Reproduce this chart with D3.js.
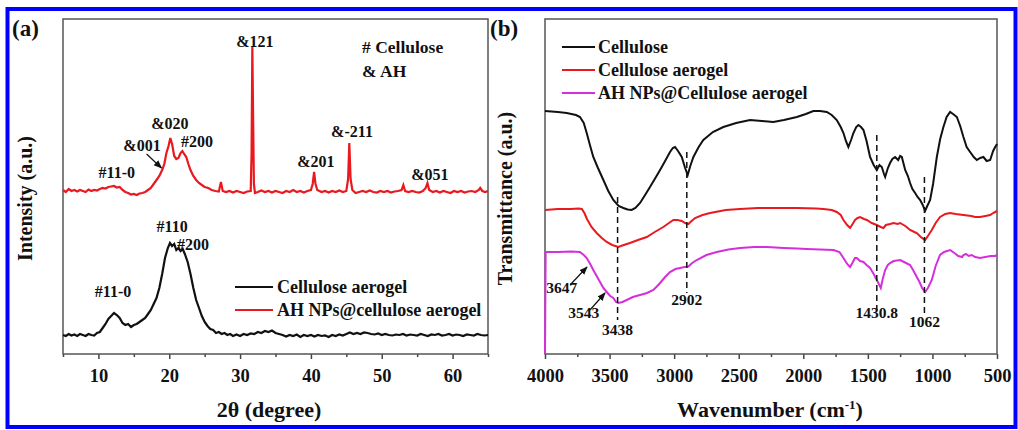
<!DOCTYPE html>
<html>
<head>
<meta charset="utf-8">
<script src="https://cdn.jsdelivr.net/npm/d3@7"></script>
<style>
  body { margin: 0; background: #fff; }
  svg text { font-family: "Liberation Serif", "Times New Roman", serif; font-weight: bold; fill: #111; }
</style>
</head>
<body>
<svg id="chart" width="1018" height="430"></svg>
<script>
// ---- data (panel a: XRD, intensity a.u.) ----
const xrdCellAerogel = [
  [5,19],[5.4,18],[5.8,20],[6.2,18.5],[6.6,19.5],[7,18],[7.4,20],[7.8,19],[8.2,18],[8.6,20],[9,19],[9.4,18.5],
  [9.8,21],[10.2,22],[10.6,26],[11,30],[11.4,35],[11.8,38],[12.2,41],[12.6,39],[13,36],[13.4,31],[13.8,29],
  [14.2,30],[14.6,27],[15,29],[15.4,30],[15.8,32],[16.2,34],[16.6,36],[17,40],[17.4,44],[17.8,50],[18.2,56],
  [18.6,66],[19,80],[19.4,96],[19.8,106],[20.1,111],[20.4,108],[20.7,110],[21,104],[21.3,106],[21.6,103],
  [21.9,105],[22.2,100],[22.6,92],[23,80],[23.4,66],[23.8,54],[24.2,46],[24.6,38],[25,32],[25.4,28],[25.8,25],
  [26.2,24],[26.6,21],[27,22],[27.4,20],[27.8,21],[28.2,19],[28.6,20],[29,18],[29.5,19.5],[30,18],[30.5,20],
  [31,19],[31.5,20.5],[32,20],[32.5,22],[33,21],[33.5,23],[34,22],[34.5,23.5],[35,21],[35.5,20],[36,19],
  [36.5,17.5],[37,19],[37.5,18],[38,19.5],[38.5,17],[39,19],[39.5,18],[40,19],[40.5,17.5],[41,19],[41.5,18],
  [42,18.5],[42.5,17],[43,19],[43.5,18],[44,19.5],[44.5,18.5],[45,20],[45.5,21.5],[46,20],[46.5,21],[47,20],
  [47.5,21.5],[48,21],[48.5,20],[49,19.5],[49.5,20.5],[50,19],[50.5,20],[51,19],[51.5,18.5],[52,19.5],
  [52.5,19],[53,20],[53.5,18.5],[54,19.5],[54.5,19],[55,18.5],[55.5,20],[56,19],[56.5,18],[57,19.5],[57.5,19],
  [58,20],[58.5,18.5],[59,19],[59.5,20],[60,18.5],[60.5,19.5],[61,19],[61.5,18],[62,19.5],[62.5,19],
  [63,18.5],[63.5,20],[64,19],[64.5,18.5],[65,19]
];
const xrdAHAerogel = [
  [5,164],[5.4,162],[5.8,165],[6.2,163],[6.6,164],[7,162.5],[7.4,164],[7.8,163],[8.2,162],[8.6,164.5],[9,163],
  [9.4,164],[9.8,163.5],[10.2,165],[10.6,166],[11,165.5],[11.4,167],[11.8,167.5],[12.2,168],[12.6,166.5],
  [13,167],[13.4,164],[13.8,162],[14.2,161],[14.6,159.5],[15,160],[15.4,159],[15.8,160.5],[16.2,161],[16.6,162],
  [17,164],[17.4,166],[17.8,170],[18.2,174],[18.6,178],[19,184],[19.3,190],[19.6,201],[19.9,208],[20.15,216],
  [20.4,210],[20.7,198],[21,195],[21.3,196],[21.6,201],[21.85,203],[22.1,200],[22.4,197],[22.7,190],[23,184],
  [23.4,178],[23.8,174],[24.2,171],[24.6,169],[25,167],[25.5,166],[26,164],[26.5,163],[27,162.5],[27.3,172],
  [27.55,163],[28,162],[28.5,163],[29,161.5],[29.5,163],[30,162],[30.5,161],[31,162.5],[31.5,163],[31.62,200],
  [31.73,307],[31.85,230],[31.95,170],[32.1,161],[32.5,162],[33,163.5],[33.5,162],[34,163],[34.5,161.5],[35,163],
  [35.5,162],[36,161],[36.5,163],[37,162],[37.5,164],[38,162],[38.5,163],[39,161.5],[39.5,163],[40,164],
  [40.25,170],[40.45,182],[40.65,170],[40.9,164],[41.5,162],[42,163],[42.5,161.5],[43,163],[43.5,162],
  [44,163.5],[44.5,162],[45,163],[45.25,175],[45.42,211],[45.6,175],[45.85,164],[46.3,161],[46.8,162],
  [47.3,163],[47.8,162],[48.3,163.5],[48.8,162],[49.3,161.5],[49.8,163],[50.3,162],[50.8,163],[51.3,161.5],
  [51.8,162.5],[52.3,163],[52.8,164],[53.05,169],[53.3,163],[53.8,162],[54.3,163],[54.8,162],[55.3,161.5],
  [55.8,163],[56.2,166],[56.45,171],[56.7,164],[57.2,162],[57.7,163],[58.2,161.5],[58.7,163],[59.2,162],
  [59.7,161],[60.2,163],[60.7,162],[61.2,163],[61.7,161.5],[62.2,162.5],[62.7,163],[63.2,162],[63.7,164],
  [63.9,166],[64.2,163],[64.6,162],[65,163]
];
const xrdTicks = [10, 20, 30, 40, 50, 60];
const xrdMinorTicks = [5, 15, 25, 35, 45, 55, 65];
const xrdLegend = ["Cellulose aerogel", "AH NPs@cellulose aerogel"];
const xrdTopLabels = [
  {t: "&121", x: 32.1, h: 307},
  {t: "&020", x: 20.1, h: 225},
  {t: "&001", x: 16.15, h: 203},
  {t: "#200", x: 23.9, h: 207},
  {t: "#11-0", x: 12.6, h: 176},
  {t: "&201", x: 40.7, h: 187},
  {t: "&-211", x: 45.8, h: 217},
  {t: "&051", x: 56.8, h: 174}
];
const xrdBottomLabels = [
  {t: "#110", x: 20.4, h: 122},
  {t: "#200", x: 23.35, h: 104},
  {t: "#11-0", x: 12.06, h: 57}
];

// ---- data (panel b: FTIR, transmittance a.u.) ----
const ftirCellulose = [
  [4000,243],[3900,242],[3832,241],[3760,239],[3729,237],[3700,231],[3677,221],[3650,208],[3626,197],[3590,186],
  [3548,174],[3510,163],[3471,154],[3430,148],[3393,146],[3360,144.5],[3329,144],[3300,146],[3264,151],
  [3225,159],[3187,167],[3150,175],[3109,184],[3070,193],[3032,202],[3010,206],[2993,207],[2970,203],
  [2941,197],[2915,186],[2895,179],[2875,188],[2851,197],[2810,207],[2774,214],[2700,222],[2619,227],
  [2520,231],[2412,234],[2320,233],[2232,232],[2150,234],[2050,237],[1980,240],[1922,243],[1870,243],
  [1818,242],[1780,239],[1741,234],[1710,227],[1689,221],[1670,213],[1651,207],[1630,214],[1612,221],
  [1590,227],[1573,229],[1553,227],[1534,224],[1510,213],[1483,197],[1455,189],[1431,184],[1410,189],
  [1392,187],[1375,180],[1366,177],[1345,186],[1328,191],[1310,195],[1289,197],[1265,194],[1250,198],
  [1237,197],[1211,184],[1190,178],[1173,171],[1155,165],[1134,161],[1115,157],[1095,154],[1075,149],
  [1057,143],[1040,148],[1018,154],[995,170],[966,197],[940,215],[915,227],[890,237],[863,242],[840,240],
  [811,237],[785,228],[760,217],[735,207],[708,202],[680,197],[656,194],[630,196],[605,197],[580,193],
  [553,194],[530,203],[514,207],[500,210]
];
const ftirAerogel = [
  [4000,144],[3900,145],[3800,145],[3740,145.5],[3715,145],[3695,141],[3675,135],[3640,127],[3600,121],
  [3560,116],[3522,112],[3480,109],[3432,107],[3390,109],[3342,111],[3280,114],[3212,117],[3150,122],
  [3084,127],[3040,131],[3006,134],[2975,134],[2941,133],[2915,131],[2890,130],[2865,133],[2838,136],
  [2780,139],[2722,141],[2600,144],[2490,145],[2350,146],[2232,146],[2050,146],[1900,145.5],[1844,145],
  [1780,144],[1741,142],[1710,139],[1689,134],[1660,129],[1638,126],[1618,130],[1599,134],[1580,136],
  [1560,137],[1530,135],[1508,134],[1470,131],[1431,129],[1400,127],[1379,126],[1360,129],[1328,130],
  [1300,131],[1270,130],[1250,131],[1210,128],[1173,124],[1140,122],[1121,121],[1090,117],[1057,114],
  [1030,119],[1005,124],[975,131],[941,137],[900,140],[863,141],[820,140],[760,139],[700,138],[670,137],
  [631,137],[590,138],[553,139],[530,141],[514,142],[500,143]
];
const ftirAHAerogel = [
  [4000,0],[3995,102],[3900,102],[3800,102.5],[3729,102],[3700,99],[3677,96],[3650,90],[3626,84],[3600,78],
  [3574,72],[3548,66],[3522,62],[3495,58],[3471,56],[3450,52],[3432,51],[3400,52],[3367,54],[3320,57],
  [3264,59],[3210,61],[3161,64],[3130,68],[3109,71],[3070,77],[3032,82],[2990,85],[2954,86],[2920,87],
  [2890,87.5],[2860,91],[2825,94],[2750,99],[2670,102],[2580,104.5],[2490,106],[2380,107],[2283,107],
  [2150,106],[2050,105.5],[1973,105],[1870,104.5],[1767,104],[1720,102],[1689,96],[1660,90],[1638,87],
  [1620,91],[1600,96],[1586,96],[1560,93],[1534,92],[1510,89],[1483,86],[1455,80],[1431,74],[1415,70],
  [1400,66],[1385,75],[1366,84],[1345,89],[1328,91],[1300,93],[1250,94],[1220,92],[1173,89],[1150,84],
  [1121,77],[1100,72],[1080,66],[1057,62],[1035,66],[1005,74],[975,88],[941,99],[910,102],[863,104],
  [830,101],[800,98],[770,97],[760,99],[740,100],[720,98],[696,99],[670,97],[631,96],[590,97],[550,98],
  [514,98],[500,99]
];
const ftirTicks = [4000, 3500, 3000, 2500, 2000, 1500, 1000, 500];
const ftirMinorTicks = [3750, 3250, 2750, 2250, 1750, 1250, 750];
const ftirLegend = ["Cellulose", "Cellulose aerogel", "AH NPs@Cellulose aerogel"];
// dashed marker lines: wavenumber, top and bottom (a.u.)
const ftirMarks = [
  {wn: 3438, top: 157, bottom: 34},
  {wn: 2902, top: 202, bottom: 61},
  {wn: 1430.8, top: 219, bottom: 44},
  {wn: 1062, top: 177, bottom: 37}
];
const ftirLabels = [
  {t: "3438", wn: 3438, h: 19},
  {t: "2902", wn: 2902, h: 49},
  {t: "1430.8", wn: 1430.8, h: 36},
  {t: "1062", wn: 1062, h: 27},
  {t: "3647", wn: 3870, h: 61},
  {t: "3543", wn: 3700, h: 36}
];
const ftirArrows = [
  {from: [3806, 69], to: [3675, 87]},
  {from: [3652, 44], to: [3535, 61]}
];

const colors = {black: "#111", red: "#e8191f", magenta: "#d52fdc"};

// ---- layout ----
const svg = d3.select('#chart');
const panelA = {left: 63, right: 488, top: 19, bottom: 354};
const panelB = {left: 545, right: 997, top: 19, bottom: 354};

svg.append('rect').attr('width', 1018).attr('height', 430).attr('fill', '#fff');
svg.append('rect')
    .attr('x', 7.5).attr('y', 9).attr('width', 1008).attr('height', 418)
    .attr('fill', 'none').attr('stroke', '#0000ff').attr('stroke-width', 4);

// arrow marker
svg.append('defs').append('marker')
    .attr('id', 'arrow').attr('viewBox', '0 0 10 10')
    .attr('refX', 9).attr('refY', 5)
    .attr('markerWidth', 7).attr('markerHeight', 7)
    .attr('orient', 'auto')
  .append('path').attr('d', 'M0,1 L10,5 L0,9 Z').attr('fill', '#111');

function drawFrame(p, x, majors, minors, title, titleX, yTitle, yTitleX, tag, tagX) {
    const g = svg.append('g');
    // bottom ticks, major then minor
    const ax = g.append('g').attr('transform', `translate(0,${p.bottom})`)
        .call(d3.axisBottom(x).tickValues(majors).tickSize(5).tickPadding(10).tickFormat(d3.format('d')));
    ax.select('.domain').remove();
    ax.selectAll('line').attr('stroke', '#444').attr('stroke-width', 1.5);
    ax.selectAll('text').style('font-size', '18.5px').attr('fill', '#111');
    const mx = g.append('g').attr('transform', `translate(0,${p.bottom})`)
        .call(d3.axisBottom(x).tickValues(minors).tickSize(3).tickFormat(''));
    mx.select('.domain').remove();
    mx.selectAll('line').attr('stroke', '#444').attr('stroke-width', 1.5);

    g.append('rect')
        .attr('x', p.left).attr('y', p.top)
        .attr('width', p.right - p.left).attr('height', p.bottom - p.top)
        .attr('fill', 'none').attr('stroke', '#555').attr('stroke-width', 1.5);

    g.append('text').attr('class', 'xtitle').attr('x', titleX).attr('y', 417)
        .attr('text-anchor', 'middle').style('font-size', '22px').text(title);
    g.append('text')
        .attr('transform', `translate(${yTitleX},${(p.top + p.bottom) / 2 + 12}) rotate(-90)`)
        .attr('text-anchor', 'middle').style('font-size', '20px').text(yTitle);
    g.append('text').attr('x', tagX).attr('y', 36).style('font-size', '23px').text(tag);
    return g;
}

// ---------- panel (a) ----------
const xA = d3.scaleLinear().domain([5, 65]).range([panelA.left, panelA.right]);
const yA = d3.scaleLinear().domain([0, 335]).range([panelA.bottom, panelA.top]);
drawFrame(panelA, xA, xrdTicks, xrdMinorTicks, '2θ (degree)', 269, 'Intensity (a.u.)', 32, '(a)', 12);

const lineA = d3.line().x(d => xA(d[0])).y(d => yA(d[1]));
svg.append('path').datum(xrdCellAerogel)
    .attr('d', lineA).attr('fill', 'none').attr('stroke', colors.black).attr('stroke-width', 2.2);
svg.append('path').datum(xrdAHAerogel)
    .attr('d', lineA).attr('fill', 'none').attr('stroke', colors.red).attr('stroke-width', 2.2);

svg.selectAll('text.lblA')
    .data(xrdTopLabels.concat(xrdBottomLabels))
    .join('text').attr('class', 'lblA')
    .attr('x', d => xA(d.x)).attr('y', d => yA(d.h))
    .attr('text-anchor', 'middle').style('font-size', '16px')
    .text(d => d.t);

// &001 arrow
svg.append('line')
    .attr('x1', xA(16.8)).attr('y1', yA(200)).attr('x2', xA(18.9)).attr('y2', yA(186))
    .attr('stroke', '#111').attr('stroke-width', 1.2).attr('marker-end', 'url(#arrow)');

svg.append('text').attr('x', 362).attr('y', 53).style('font-size', '17.5px').text('# Cellulose');
svg.append('text').attr('x', 362).attr('y', 77).style('font-size', '17.5px').text('& AH');

const legA = svg.append('g');
legA.selectAll('line').data(xrdLegend).join('line')
    .attr('x1', 235).attr('x2', 273)
    .attr('y1', (d, i) => 287 + i * 23).attr('y2', (d, i) => 287 + i * 23)
    .attr('stroke', (d, i) => i ? colors.red : colors.black).attr('stroke-width', 2);
legA.selectAll('text').data(xrdLegend).join('text')
    .attr('x', 277).attr('y', (d, i) => 293 + i * 23)
    .style('font-size', '18px').text(d => d);

// ---------- panel (b) ----------
const xB = d3.scaleLinear().domain([4000, 500]).range([panelB.left, panelB.right]);
const yB = d3.scaleLinear().domain([0, 335]).range([panelB.bottom, panelB.top]);
const frameB = drawFrame(panelB, xB, ftirTicks, ftirMinorTicks, '', 770, 'Transmittance (a.u.)', 512, '(b)', 490);
// axis title with superscript
const tB = frameB.select('text.xtitle');
tB.append('tspan').text('Wavenumber (cm');
tB.append('tspan').attr('dy', -8).style('font-size', '13px').text('-1');
tB.append('tspan').attr('dy', 8).text(')');

const lineB = d3.line().x(d => xB(d[0])).y(d => yB(d[1]));
[[ftirCellulose, colors.black], [ftirAerogel, colors.red], [ftirAHAerogel, colors.magenta]].forEach(([data, c]) => {
    svg.append('path').datum(data)
        .attr('d', lineB).attr('fill', 'none').attr('stroke', c).attr('stroke-width', 2);
});

svg.selectAll('line.mark').data(ftirMarks).join('line').attr('class', 'mark')
    .attr('x1', d => xB(d.wn)).attr('x2', d => xB(d.wn))
    .attr('y1', d => yB(d.top)).attr('y2', d => yB(d.bottom))
    .attr('stroke', '#111').attr('stroke-width', 1.5).attr('stroke-dasharray', '6,4');

svg.selectAll('text.lblB').data(ftirLabels).join('text').attr('class', 'lblB')
    .attr('x', d => xB(d.wn)).attr('y', d => yB(d.h))
    .attr('text-anchor', 'middle').style('font-size', '15.5px').text(d => d.t);

svg.selectAll('line.arr').data(ftirArrows).join('line').attr('class', 'arr')
    .attr('x1', d => xB(d.from[0])).attr('y1', d => yB(d.from[1]))
    .attr('x2', d => xB(d.to[0])).attr('y2', d => yB(d.to[1]))
    .attr('stroke', '#111').attr('stroke-width', 1.2).attr('marker-end', 'url(#arrow)');

const legB = svg.append('g');
const legColors = [colors.black, colors.red, colors.magenta];
legB.selectAll('line').data(ftirLegend).join('line')
    .attr('x1', 562).attr('x2', 595)
    .attr('y1', (d, i) => 47 + i * 23).attr('y2', (d, i) => 47 + i * 23)
    .attr('stroke', (d, i) => legColors[i]).attr('stroke-width', 2);
legB.selectAll('text').data(ftirLegend).join('text')
    .attr('x', 598).attr('y', (d, i) => 53 + i * 23)
    .style('font-size', '18px').text(d => d);
</script>
</body>
</html>
